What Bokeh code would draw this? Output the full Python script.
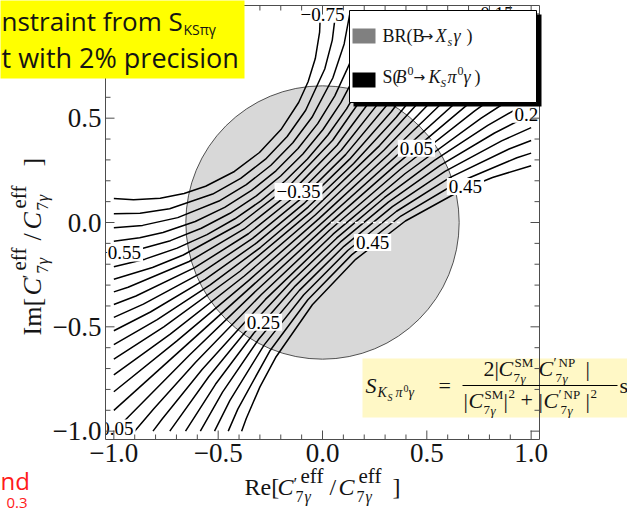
import math
from bokeh.plotting import figure
from bokeh.models import Label, BoxAnnotation
from bokeh.core.properties import value
from bokeh.embed import file_html
from bokeh.resources import INLINE

# ---------------- data ----------------
LEVELS = [-0.75, -0.70, -0.65, -0.60, -0.55, -0.50, -0.45, -0.40, -0.35, -0.30,
          -0.25, -0.20, -0.15, -0.10, -0.05, 0.00, 0.05, 0.10, 0.15, 0.20,
          0.25, 0.30, 0.35, 0.40, 0.45]

CONTOUR_X = [
    [-1.0, -0.9056, -0.7777, -0.6634, -0.5601, -0.4221, -0.3020, -0.1991, -0.1143, -0.0690, -0.0345, -0.0138, -0.0104],
    [-1.0, -0.8745, -0.7324, -0.5263, -0.3922, -0.2732, -0.1692, -0.0805, 0.0108, 0.0469, 0.0624],
    [-1.0, -0.8622, -0.6938, -0.4962, -0.3651, -0.2471, -0.1421, -0.0504, 0.0494, 0.1038, 0.1308],
    [-1.0, -0.8761, -0.7644, -0.6098, -0.4688, -0.3402, -0.2230, -0.1172, -0.0230, 0.0590, 0.1274, 0.1643, 0.1965],
    [-1.0, -0.8904, -0.7291, -0.5806, -0.4434, -0.3170, -0.2005, -0.0940, 0.0024, 0.0882, 0.1627, 0.2242, 0.2607],
    [-1.0, -0.8509, -0.6969, -0.5535, -0.4197, -0.2951, -0.1793, -0.0721, 0.0261, 0.1153, 0.1949, 0.2637, 0.3241],
    [-1.0, -0.8148, -0.6671, -0.3972, -0.1590, 0.0486, 0.2247, 0.2998, 0.3654, 0.3876],
    [-1.0, -0.9317, -0.6391, -0.3757, -0.1396, 0.0701, 0.2527, 0.4059, 0.4518],
    [-1.0, -0.8940, -0.6124, -0.3551, -0.1209, 0.0907, 0.2794, 0.4436, 0.5175],
    [-1.0, -0.8585, -0.5869, -0.3351, -0.1027, 0.1107, 0.3049, 0.4791, 0.5854],
    [-1.0, -0.8247, -0.5622, -0.3157, -0.0850, 0.1301, 0.3296, 0.5129, 0.6565],
    [-1.0, -0.7922, -0.5382, -0.2966, -0.0676, 0.1492, 0.3536, 0.5454, 0.7242, 0.7317],
    [-1.0, -0.7606, -0.3952, -0.0505, 0.2736, 0.5770, 0.7675, 0.8124],
    [-1.0, -0.7296, -0.3748, -0.0335, 0.2940, 0.6080, 0.8096, 0.9005],
    [-1.0, -0.6991, -0.3545, -0.0167, 0.3143, 0.6385, 0.9986],
    [-1.0, 1.0],
    [-0.9986, -0.6385, -0.3143, 0.0167, 0.3545, 0.6991, 1.0],
    [-0.9005, -0.8096, -0.6080, -0.2940, 0.0335, 0.3748, 0.7296, 1.0],
    [-0.8124, -0.7675, -0.5770, -0.2736, 0.0505, 0.3952, 0.7606, 1.0],
    [-0.7317, -0.7242, -0.5454, -0.3536, -0.1492, 0.0676, 0.2966, 0.5382, 0.7922, 1.0],
    [-0.6565, -0.5129, -0.3296, -0.1301, 0.0850, 0.3157, 0.5622, 0.8247, 1.0],
    [-0.5854, -0.4791, -0.3049, -0.1107, 0.1027, 0.3351, 0.5869, 0.8585, 1.0],
    [-0.5175, -0.4436, -0.2794, -0.0907, 0.1209, 0.3551, 0.6124, 0.8940, 1.0],
    [-0.4518, -0.4059, -0.2527, -0.0701, 0.1396, 0.3757, 0.6391, 0.9317, 1.0],
    [-0.3876, -0.3654, -0.2998, -0.2247, -0.0486, 0.1590, 0.3972, 0.6671, 0.8148, 1.0],
]
CONTOUR_Y = [
    [0.1156, 0.1090, 0.1164, 0.1391, 0.1738, 0.2446, 0.3354, 0.4454, 0.5752, 0.6743, 0.7856, 0.9120, 1.0],
    [0.0424, 0.0447, 0.0662, 0.1363, 0.2113, 0.3035, 0.4121, 0.5377, 0.7354, 0.8743, 1.0],
    [-0.0254, -0.0138, 0.0233, 0.1028, 0.1812, 0.2744, 0.3820, 0.5042, 0.6925, 0.8560, 1.0],
    [-0.0897, -0.0731, -0.0478, 0.0047, 0.0724, 0.1536, 0.2477, 0.3544, 0.4738, 0.6069, 0.7552, 0.8637, 1.0],
    [-0.1518, -0.1318, -0.0870, -0.0277, 0.0442, 0.1278, 0.2227, 0.3286, 0.4456, 0.5745, 0.7160, 0.8718, 1.0],
    [-0.2124, -0.1757, -0.1227, -0.0578, 0.0179, 0.1036, 0.1991, 0.3044, 0.4193, 0.5444, 0.6803, 0.8279, 1.0],
    [-0.2724, -0.2158, -0.1558, -0.0071, 0.1766, 0.3943, 0.6472, 0.7878, 0.9392, 1.0],
    [-0.3324, -0.3102, -0.1870, -0.0310, 0.1551, 0.3704, 0.6160, 0.8942, 1.0],
    [-0.3930, -0.3521, -0.2166, -0.0539, 0.1343, 0.3475, 0.5864, 0.8523, 1.0],
    [-0.4549, -0.3915, -0.2449, -0.0761, 0.1141, 0.3253, 0.5581, 0.8129, 1.0],
    [-0.5187, -0.4290, -0.2724, -0.0977, 0.0944, 0.3037, 0.5306, 0.7754, 1.0],
    [-0.5852, -0.4652, -0.2990, -0.1188, 0.0751, 0.2826, 0.5040, 0.7392, 0.9889, 1.0],
    [-0.6552, -0.5002, -0.2336, 0.0560, 0.3686, 0.7042, 0.9408, 1.0],
    [-0.7300, -0.5346, -0.2563, 0.0373, 0.3459, 0.6698, 0.8941, 1.0],
    [-0.8110, -0.5685, -0.2787, 0.0186, 0.3235, 0.6359, 1.0],
    [-0.9004, 0.9004],
    [-1.0, -0.6359, -0.3235, -0.0186, 0.2787, 0.5685, 0.8110],
    [-1.0, -0.8941, -0.6698, -0.3459, -0.0373, 0.2563, 0.5346, 0.7300],
    [-1.0, -0.9408, -0.7042, -0.3686, -0.0560, 0.2336, 0.5002, 0.6552],
    [-1.0, -0.9889, -0.7392, -0.5040, -0.2826, -0.0751, 0.1188, 0.2990, 0.4652, 0.5852],
    [-1.0, -0.7754, -0.5306, -0.3037, -0.0944, 0.0977, 0.2724, 0.4290, 0.5187],
    [-1.0, -0.8129, -0.5581, -0.3253, -0.1141, 0.0761, 0.2449, 0.3915, 0.4549],
    [-1.0, -0.8523, -0.5864, -0.3475, -0.1343, 0.0539, 0.2166, 0.3521, 0.3930],
    [-1.0, -0.8942, -0.6160, -0.3704, -0.1551, 0.0310, 0.1870, 0.3102, 0.3324],
    [-1.0, -0.9392, -0.7878, -0.6472, -0.3943, -0.1766, 0.0071, 0.1558, 0.2158, 0.2724],
]

DISK_X = [0.0]
DISK_Y = [0.0]
DISK_R = [0.655]

CLABEL_TEXT = ["\u22120.75", "\u22120.15", "0.25", "0.05", "0.45", "\u22120.35", "0.45", "\u22120.55", "0.25", "0.05"]
CLABEL_X = [0.0, 0.81, 1.0, 0.45, 0.685, -0.115, 0.24, -0.975, -0.283, -0.985]
CLABEL_Y = [0.998, 1.0, 0.519, 0.356, 0.172, 0.148, -0.096, -0.146, -0.478, -0.985]

SEAM_X = [0.04, 0.38]
SEAM_Y = [0.0, 0.0]

TICKS = [-1.0, -0.5, 0.0, 0.5, 1.0]
TICK_LABELS = ["\u22121.0", "\u22120.5", "0.0", "0.5", "1.0"]
MINOR_TICKS = [-0.9, -0.8, -0.7, -0.6, -0.4, -0.3, -0.2, -0.1,
               0.1, 0.2, 0.3, 0.4, 0.6, 0.7, 0.8, 0.9]
PLOT_LIM = 1.04          # frame of the plot box, in data units

# ---------------- layout helpers (pixel -> data) ----------------
W, H = 627, 511
FL, FR, FT, FB = 105, 539, 5, 439
UPP = 2 * PLOT_LIM / (FR - FL)        # data units per pixel


def sx(px):
    return -PLOT_LIM + (px - FL) * UPP


def sy(py):
    return PLOT_LIM - (py - FT) * UPP


p = figure(width=W, height=H, x_range=(sx(0), sx(W)), y_range=(sy(H), sy(0)),
           output_backend="svg", toolbar_location=None, title=None,
           x_axis_location=None, y_axis_location=None,
           min_border=0, min_border_left=0, min_border_right=0,
           min_border_top=0, min_border_bottom=0)
p.grid.visible = False
p.outline_line_color = None
p.background_fill_color = "white"
p.border_fill_color = "white"

AX_COL = "#4d4d4d"
TXT = "#141414"
SERIF = "Liberation Serif"

# BR disk
p.ellipse(x=DISK_X, y=DISK_Y, width=[2 * r for r in DISK_R], height=[2 * r for r in DISK_R],
          fill_color="#d8d8d8", line_color="#505050", line_width=1)

# contour lines of S
p.multi_line(xs=CONTOUR_X, ys=CONTOUR_Y, line_color="black", line_width=1.5)

# seam artefact
p.line(SEAM_X, SEAM_Y, line_color="white", line_width=1.5, line_dash="3 3")

# contour labels
p.text(x=CLABEL_X, y=CLABEL_Y, text=CLABEL_TEXT, text_font=value(SERIF),
       text_font_size="19px", text_align="center", text_baseline="middle",
       text_color="black", background_fill_color="white", padding=2)

# white mat outside the plot box (clips the contour labels like the frame does)
L0, R0, B0, T0 = sx(-10), sx(W + 10), sy(H + 10), sy(-10)
p.quad(left=[L0, PLOT_LIM, L0, L0], right=[-PLOT_LIM, R0, R0, R0],
       bottom=[B0, B0, B0, PLOT_LIM], top=[T0, T0, -PLOT_LIM, T0],
       fill_color="white", line_color=None)

# formula box (under the frame line)
p.quad(left=[sx(362)], right=[sx(W + 10)], bottom=[sy(417)], top=[sy(358)],
       fill_color="#fff8c6", line_color=None)

# frame
p.quad(left=[-PLOT_LIM], right=[PLOT_LIM], bottom=[-PLOT_LIM], top=[PLOT_LIM],
       fill_color=None, line_color=AX_COL, line_width=1)

# ticks on all four sides, pointing inwards
MAJ = 9 * UPP
MIN = 5 * UPP
for ticks, ln in ((TICKS, MAJ), (MINOR_TICKS, MIN)):
    n = len(ticks)
    p.segment(x0=ticks, y0=[-PLOT_LIM] * n, x1=ticks, y1=[-PLOT_LIM + ln] * n,
              line_color=AX_COL, line_width=1)
    p.segment(x0=ticks, y0=[PLOT_LIM] * n, x1=ticks, y1=[PLOT_LIM - ln] * n,
              line_color=AX_COL, line_width=1)
    p.segment(x0=[-PLOT_LIM] * n, y0=ticks, x1=[-PLOT_LIM + ln] * n, y1=ticks,
              line_color=AX_COL, line_width=1)
    p.segment(x0=[PLOT_LIM] * n, y0=ticks, x1=[PLOT_LIM - ln] * n, y1=ticks,
              line_color=AX_COL, line_width=1)

# tick labels
nt = len(TICKS)
p.text(x=TICKS, y=[sy(452.5)] * nt, text=TICK_LABELS, text_font=value(SERIF),
       text_font_size="27px", text_align="center", text_baseline="middle",
       text_color=TXT)
p.text(x=[sx(101)] * nt, y=TICKS, text=TICK_LABELS,
       text_font=value(SERIF), text_font_size="27px", text_align="right",
       text_baseline="middle", text_color=TXT)

# fraction bar of the formula
p.segment(x0=[sx(462)], y0=[sy(385)], x1=[sx(617)], y1=[sy(385)], line_color="black", line_width=1)


def box(l, r, t, b, color, line_color=None, lw=1):
    p.add_layout(BoxAnnotation(left=sx(l), right=sx(r), top=sy(t), bottom=sy(b),
                               fill_color=color, fill_alpha=1.0,
                               line_color=line_color, line_alpha=1.0, line_width=lw))


def lab(px, py, text, size=20, style="normal", font=SERIF, color=TXT,
        align="left", angle=0.0):
    # (px, py) = left end / vertical centre of the text, in picture pixels
    p.add_layout(Label(x=sx(px), y=sy(py), text=text, text_font=font,
                       text_font_size=f"{size}px", text_font_style=style,
                       text_color=color, text_align=align, text_baseline="middle",
                       angle=angle))


# legend
box(353, 541, 14, 106, "black")
box(349, 536, 10, 102, "white", line_color="black")
box(352, 375, 28, 43, "#808080")
box(352, 375, 72, 87, "black")
lab(382, 35, "BR(B", 18)
lab(421, 35, "\u2192", 14, font="DejaVu Sans")
lab(435, 35, "X", 18, "italic")
lab(447, 41, "s", 12, "italic")
lab(453, 35, "\u03b3", 18, "italic")
lab(466, 35, ")", 18)
lab(382, 76, "S(", 18)
lab(395, 76, "B", 18, "italic")
lab(407, 70, "0", 12)
lab(413, 76, "\u2192", 14, font="DejaVu Sans")
lab(428, 76, "K", 18, "italic")
lab(440, 82, "S", 11, "italic")
lab(447, 76, "\u03c0", 18, "italic")
lab(457, 70, "0", 12)
lab(463, 76, "\u03b3", 18, "italic")
lab(474, 76, ")", 18)

# formula text
lab(365, 384.5, "S", 22, "italic")
lab(377, 392, "K", 14, "italic")
lab(387, 396.5, "S", 10, "italic")
lab(395, 392, "\u03c0", 14, "italic")
lab(403, 387.5, "0", 10)
lab(408, 392, "\u03b3", 14, "italic")
lab(438, 384.5, "=", 22)
lab(483, 367.5, "2|", 22)
lab(498, 367.5, "C", 22, "italic")
lab(514, 361.5, "SM", 13)
lab(513, 377.5, "7", 13)
lab(520, 377.5, "\u03b3", 13, "italic")
lab(538, 367.5, "C", 22, "italic")
lab(553, 363, "\u2032", 14)
lab(558, 361.5, "NP", 13)
lab(555, 377.5, "7", 13)
lab(562, 377.5, "\u03b3", 13, "italic")
lab(585, 367.5, "|", 22)
lab(463, 399.5, "|", 22)
lab(468, 399.5, "C", 22, "italic")
lab(484, 393.5, "SM", 13)
lab(483, 409.5, "7", 13)
lab(490, 409.5, "\u03b3", 13, "italic")
lab(503, 399.5, "|", 22)
lab(508, 393.5, "2", 13)
lab(520, 399.5, "+", 22)
lab(538, 399.5, "|", 22)
lab(543, 399.5, "C", 22, "italic")
lab(558, 395, "\u2032", 14)
lab(563, 393.5, "NP", 13)
lab(560, 409.5, "7", 13)
lab(567, 409.5, "\u03b3", 13, "italic")
lab(585, 399.5, "|", 22)
lab(590, 393.5, "2", 13)
lab(619, 384.5, "s", 22)

# x axis title  Re[C'^eff_7g / C^eff_7g]
XM, XS, XD = 486, 475, 496
lab(244, XM, "Re[", 24)
lab(277, XM, "C", 24, "italic")
lab(293, XM - 3, "\u2032", 17)
lab(300, XS, "eff", 21)
lab(295, XD, "7", 16)
lab(304, XD, "\u03b3", 16, "italic")
lab(329, XM, "/", 24)
lab(338, XM, "C", 24, "italic")
lab(358, XS, "eff", 21)
lab(356, XD, "7", 16)
lab(365, XD, "\u03b3", 16, "italic")
lab(392, XM, "]", 24)

# y axis title (rotated, reads upward); px = vertical centre line, py = start
A = math.pi / 2
YM, YS, YD = 32, 18, 42
lab(YM, 335, "Im[", 26, angle=A)
lab(YM, 295, "C", 26, "italic", angle=A)
lab(YM - 3, 278, "\u2032", 18, angle=A)
lab(YS, 270, "eff", 21, angle=A)
lab(YD, 273, "7", 17, angle=A)
lab(YD, 264, "\u03b3", 17, "italic", angle=A)
lab(YM, 240, "/", 26, angle=A)
lab(YM, 229, "C", 26, "italic", angle=A)
lab(YS, 208, "eff", 21, angle=A)
lab(YD, 210, "7", 17, angle=A)
lab(YD, 201, "\u03b3", 17, "italic", angle=A)
lab(YM, 166, "]", 26, angle=A)

# yellow slide box (top-left) and its text
box(-20, 244, -20, 78, "#ffff00")
lab(1, 20, "nstraint from S", 26, font="Open Sans")
lab(183, 29, "KS\u03c0\u03b3", 14, font="Open Sans")
lab(1, 57, "t with 2% precision", 27, font="Open Sans")

# red slide text (bottom-left)
lab(0, 480, "nd", 24, font="Open Sans", color="#ff1a1a")
lab(6, 502, "0.3", 15, font="Open Sans", color="#ff1a1a")

open("out.html", "w").write(file_html(p, INLINE))
